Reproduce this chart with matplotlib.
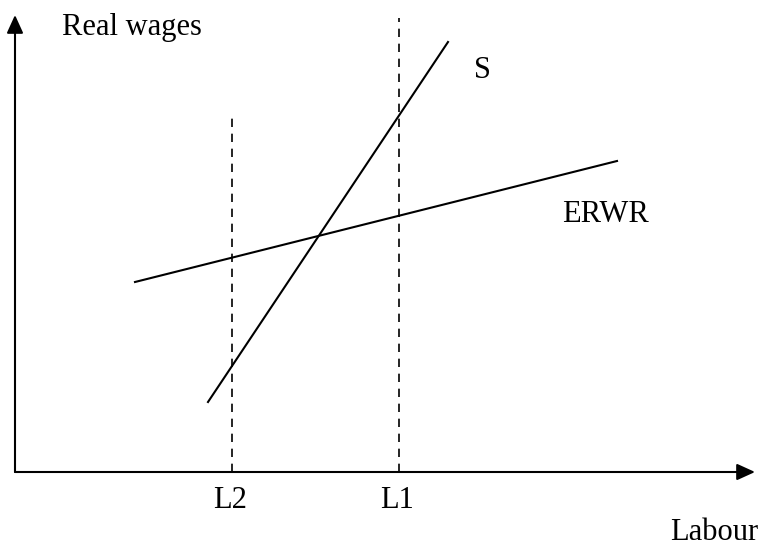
import matplotlib.pyplot as plt

# Axis extents (labour on x, real wage on y)
x_max = 740
y_max = 457

# Supply curve and expected real wage curve endpoints
s_labour = [193, 433]
s_wage = [70, 430]
erwr_labour = [120, 602]
erwr_wage = [190, 311]

# Employment levels and the height of their dashed guides
l_levels = [217, 384]
l_names = ["L2", "L1"]
l_tops = [354, 454]

plt.rcParams["font.family"] = ["Liberation Serif", "DejaVu Serif"]

fig = plt.figure(figsize=(7.6, 5.49), dpi=100)
ax = fig.add_axes([0, 0, 1, 1])
ax.set_xlim(-15, 745)
ax.set_ylim(-77, 472)
ax.axis("off")

# axes with arrow heads
arrow = dict(arrowstyle="-|>,head_length=1.1,head_width=0.5", color="black", lw=1.5,
             shrinkA=0, shrinkB=0)
ax.annotate("", xy=(x_max, 0), xytext=(0, 0), arrowprops=arrow)
ax.annotate("", xy=(0, y_max), xytext=(0, 0), arrowprops=arrow)

ax.plot(s_labour, s_wage, color="black", lw=1.5)
ax.plot(erwr_labour, erwr_wage, color="black", lw=1.5)

for lx, top, name in zip(l_levels, l_tops, l_names):
    ax.plot([lx, lx], [0, top], color="black", lw=1.2, ls=(0, (5, 4)))
    ax.text(lx - 2, -28, name, ha="center", va="center", fontsize=22)

ax.text(47, 445, "Real wages", ha="left", va="center", fontsize=22)
ax.text(459, 402, "S", ha="left", va="center", fontsize=22)
ax.text(547, 258, "ERWR", ha="left", va="center", fontsize=22)
ax.text(743, -61, "Labour", ha="right", va="center", fontsize=22)

fig.savefig("out.png", dpi=100)
